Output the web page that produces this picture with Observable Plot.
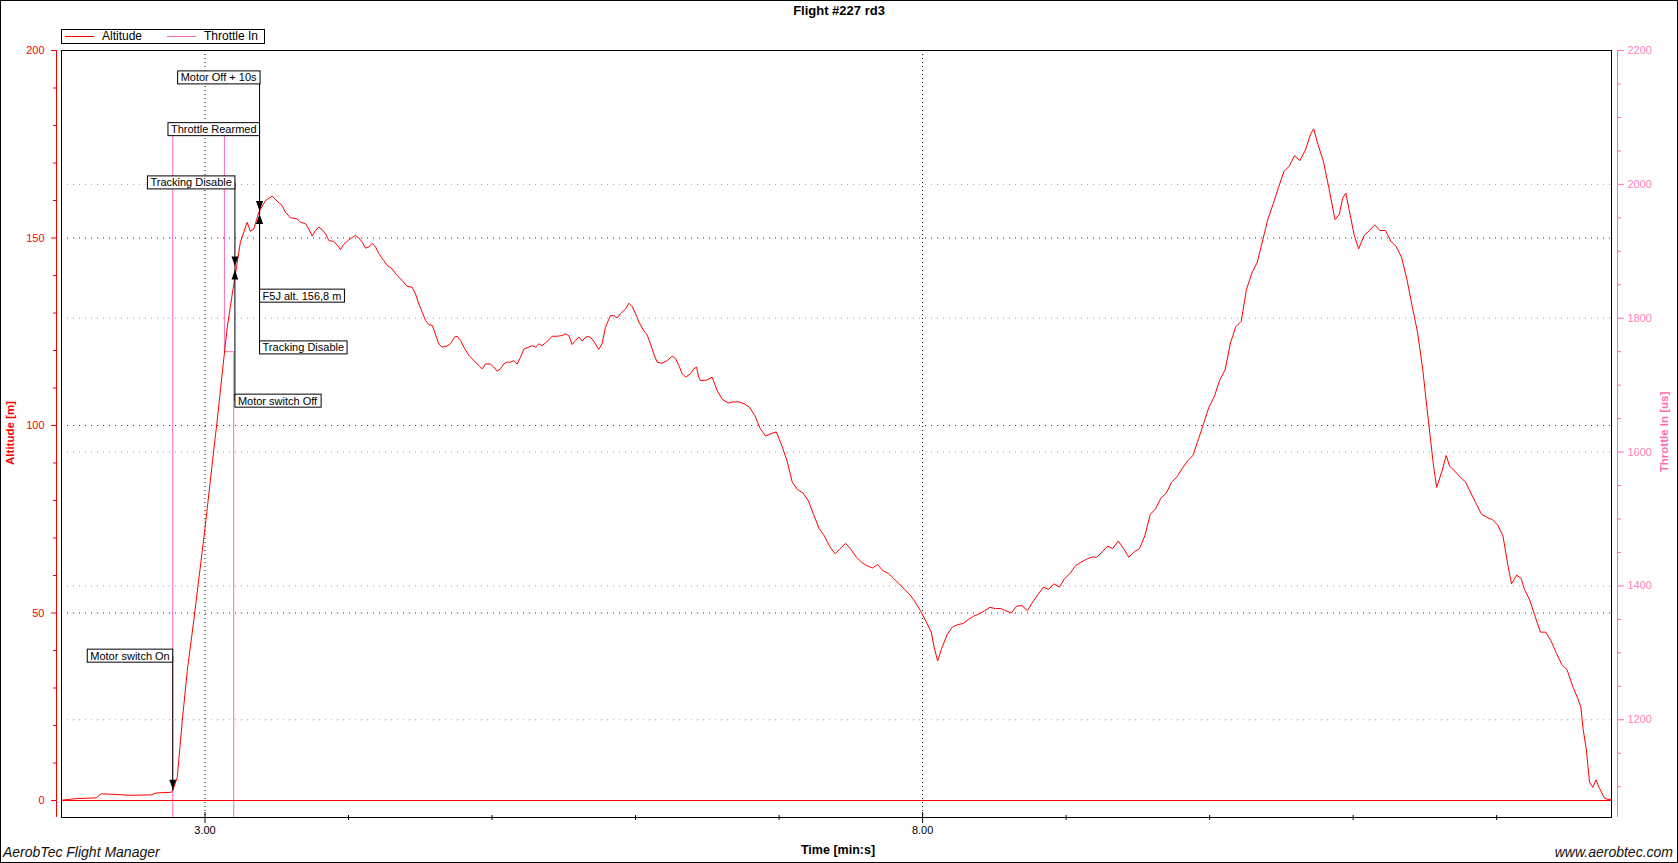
<!DOCTYPE html>
<html><head><meta charset="utf-8">
<script src="https://cdn.jsdelivr.net/npm/d3@7"></script>
<script src="https://cdn.jsdelivr.net/npm/@observablehq/plot@0.6"></script>
<style>
html,body{margin:0;padding:0;overflow:hidden;background:#fff;}
#chart{position:relative;width:1678px;height:863px;font-family:"Liberation Sans",Arial,sans-serif;}
#chart svg{position:absolute;left:0;top:0;}
.border{position:absolute;left:0;top:0;width:1678px;height:863px;box-sizing:border-box;border:1px solid #000;}
.lbl{position:absolute;white-space:nowrap;line-height:1;}
</style></head>
<body>
<div id="chart"><div class="border"></div></div>
<script>
// ---- data ----
const timeSec = [120.3,126.1,134.5,136.6,149.1,157.5,159.5,165.8,166.5,168.4,
170.5,172.6,175.3,177.5,179.7,182.0,184.2,185.1,187.2,189.3,
191.4,192.7,194.8,197.6,
199.0,200.4,202.5,205.3,208.1,210.2,212.2,213.6,215.7,218.5,
219.9,222.0,223.4,224.8,226.2,227.6,229.0,230.4,231.8,233.8,
235.9,236.6,238.0,240.1,242.9,244.3,245.7,247.1,248.5,249.9,
251.3,252.7,254.7,256.1,258.2,260.3,262.4,264.5,266.6,268.0,
269.4,270.8,272.2,273.6,275.0,276.3,277.7,279.1,281.2,282.6,
284.3,285.4,286.8,288.2,290.3,292.4,294.5,295.9,297.3,299.3,
300.7,302.1,303.5,304.9,306.3,307.7,309.1,310.5,311.9,313.3,
315.4,316.8,318.2,319.6,320.9,322.3,323.7,325.1,327.2,329.3,
330.7,332.1,333.5,334.9,336.3,337.7,339.1,340.5,341.8,343.2,
344.6,346.0,347.4,349.5,350.9,352.3,353.7,355.8,357.2,358.6,
360.0,361.4,363.4,364.8,366.2,367.6,369.0,371.1,373.2,375.3,
376.7,378.1,379.5,380.9,383.0,384.3,385.5,386.4,387.1,
389.7,392.0,394.2,396.4,398.7,400.9,403.2,405.4,407.6,409.9,
412.1,414.3,416.6,418.8,421.0,423.3,425.5,427.7,430.0,432.2,
434.4,436.7,438.9,441.1,443.4,445.6,447.8,450.1,452.3,454.5,
456.8,459.0,461.2,463.5,465.7,467.9,470.2,472.4,474.7,476.9,
479.1,481.4,483.6,484.9,486.3,488.0,490.3,492.5,494.7,497.0,
499.2,501.4,503.7,505.9,508.1,510.4,512.6,514.8,517.1,519.3,
521.5,523.8,526.0,528.2,530.5,532.7,534.9,537.2,539.4,541.7,
543.9,546.1,548.4,550.6,552.8,555.1,557.3,559.5,561.8,564.0,
566.2,568.5,570.7,572.9,575.2,577.4,579.6,581.9,584.1,586.3,
588.6,590.8,593.0,595.3,597.5,599.7,602.0,604.2,606.5,608.7,
610.9,613.2,615.4,617.6,619.9,622.1,624.3,626.6,628.8,631.0,
633.3,635.5,637.7,640.0,642.2,643.5,645.3,647.5,649.8,652.4,
654.2,655.6,656.9,658.7,660.5,662.3,664.5,666.8,669.0,671.2,
673.5,675.7,677.9,680.2,682.4,684.6,686.9,689.1,691.3,693.6,
694.9,697.1,698.9,700.3,702.5,704.7,707.0,709.2,711.4,713.7,
715.9,718.2,720.4,722.6,724.9,726.2,728.4,730.2,731.6,733.8,
736.0,738.3,740.5,742.7,745.0,747.2,749.4,751.7,753.9,755.2,
756.1,757.5,758.8,760.2,761.5,762.8,765.1,766.4,767.8];
const altitudeM = [0.1,0.5,0.7,1.8,1.4,1.5,2.0,2.2,2.6,6.2,
21.3,34.7,48.0,59.5,71.0,84.0,96.5,101.3,114.0,126.2,
135.1,140.4,148.9,154.2,
151.8,152.4,156.9,160.0,161.2,159.8,158.7,156.9,155.4,155.1,
154.2,153.8,152.4,150.5,152.0,152.9,152.2,151.1,149.3,149.1,
147.6,146.9,148.3,149.5,150.7,150.0,148.9,147.3,147.6,148.6,
147.6,145.8,144.0,142.7,141.8,140.0,138.7,137.1,136.9,135.1,
132.4,130.2,128.0,126.9,126.7,124.4,121.8,120.9,121.2,121.8,
123.6,123.8,122.7,120.9,118.7,117.3,116.0,115.1,116.4,116.4,
115.6,114.5,115.1,116.4,116.9,116.9,117.3,116.4,118.2,120.4,
120.9,121.3,120.9,121.8,121.3,122.0,122.8,123.8,123.8,124.0,
124.4,124.0,121.6,122.7,123.6,122.5,123.6,123.7,123.1,121.8,
120.3,121.8,126.2,129.3,129.3,128.7,129.8,131.1,132.6,131.7,
129.8,127.6,125.3,124.2,121.8,119.1,116.9,116.6,117.3,118.5,
117.9,116.0,113.8,112.9,113.8,115.1,115.6,112.9,112.0,
112.1,112.9,109.2,106.9,106.0,106.3,106.3,105.8,104.9,102.6,
99.2,97.2,97.8,98.3,94.9,90.6,84.9,82.9,82.0,80.0,
76.3,72.6,70.6,67.8,65.8,67.2,68.6,66.9,64.9,63.5,
62.6,62.0,62.9,61.2,60.6,59.2,57.8,56.3,54.9,52.9,
50.6,47.8,44.9,40.6,37.2,40.6,44.3,46.3,46.9,47.2,
48.3,49.2,49.8,50.6,51.5,51.2,51.2,50.6,50.0,51.8,
52.0,50.6,52.9,54.9,56.9,56.3,57.8,56.9,59.2,60.6,
62.6,63.5,64.3,64.9,64.9,66.3,67.8,67.2,69.2,67.2,
64.9,66.3,67.2,70.6,76.3,77.8,80.6,82.0,84.9,86.3,
88.6,90.6,92.0,96.3,100.6,104.9,107.8,112.1,114.9,122.0,
126.3,127.8,136.3,140.6,143.5,149.2,154.9,159.2,163.5,167.7,
169.2,172.0,170.6,173.4,177.7,179.1,174.9,170.6,163.5,154.9,
156.3,160.6,162.0,156.3,150.6,147.1,150.6,152.0,153.5,152.0,
152.0,149.2,147.8,144.9,139.2,132.0,124.9,114.9,102.1,89.2,
83.5,87.8,92.0,89.2,87.8,86.3,84.9,82.0,79.2,76.3,
75.5,74.9,73.5,70.6,62.0,57.8,60.1,59.2,56.3,53.5,
49.2,44.9,44.9,42.6,39.2,36.3,34.9,30.6,27.2,24.9,
19.2,13.5,4.9,3.5,5.5,3.5,0.6,0.3,0.3];

const throttleTime = [120, 166.5, 166.5, 188.1, 188.1, 192.0, 192.0, 768];
const throttleUs   = [1000, 1000, 2080, 2080, 1750, 1750, 1000, 1000];

const annLabel    = ["Motor switch On","Tracking Disable","Motor switch Off","Throttle Rearmed","Motor Off + 10s","F5J alt. 156,8 m","Tracking Disable"];
const annTime     = [166.5, 192.5, 192.5, 202.8, 202.8, 202.8, 202.8];
const annPointAlt = [2.5, 142.0, 142.0, 156.8, 156.8, 156.8, 156.8];
const annLabelAlt = [38.5, 164.7, 106.5, 178.9, 192.7, 134.5, 120.7];
const annSide     = ["left","left","right","left","left","right","right"];

const altTicks = [0, 50, 100, 150, 200];
const altGrid  = [50, 100, 150];
const altMinor = d3.range(0, 201, 10).filter(v => v % 50 !== 0);
const thrTicks = [1200, 1400, 1600, 1800, 2000, 2200];
const thrGrid  = [1200, 1400, 1600, 1800, 2000];
const thrMinor = d3.range(1100, 2201, 50).filter(v => v % 200 !== 0);
const timeMajor = [180, 480];
const timeMinor = [240, 300, 360, 420, 540, 600, 660, 720];

// ---- layout ----
const W = 1678, H = 863;
const margins = {marginTop: 50, marginRight: 67, marginBottom: 46, marginLeft: 61};
const xDomain = [120, 768];
const RED = "#ff0000", PINK = "#ff69b4", PINKTXT = "#ff7fc0", GRIDRED = "#a00000";
const font = '"Liberation Sans", Arial, sans-serif';
const fmtTime = s => `${Math.floor(s / 60)}.${String(Math.round(s % 60)).padStart(2, "0")}`;

const n = Math.min(timeSec.length, altitudeM.length);
const altData = d3.range(n).map(i => ({t: timeSec[i], a: altitudeM[i]}));
const thrData = throttleTime.map((t, i) => ({t, v: throttleUs[i]}));
const ann = annLabel.map((label, i) => ({label, t: annTime[i], p: annPointAlt[i], l: annLabelAlt[i], side: annSide[i]}));

const downArrow = {draw(ctx) { ctx.moveTo(-3.4, -11.5); ctx.lineTo(3.4, -11.5); ctx.lineTo(0, -2); ctx.closePath(); }};
const upArrow   = {draw(ctx) { ctx.moveTo(-3.4, 11.5); ctx.lineTo(3.4, 11.5); ctx.lineTo(0, 2); ctx.closePath(); }};

const plotThr = Plot.plot({
  width: W, height: H, ...margins,
  style: {background: "transparent", fontFamily: font, fontSize: "11px", overflow: "visible"},
  x: {domain: xDomain, axis: null},
  y: {domain: [1054, 2200]},
  marks: [
    Plot.ruleY(thrGrid, {stroke: PINK, strokeDasharray: "1,5"}),
    Plot.line(thrData, {x: "t", y: "v", stroke: PINK, strokeWidth: 1, clip: true}),
    Plot.ruleX([xDomain[1]], {stroke: PINK, dx: 6}),
    Plot.axisY(thrTicks, {anchor: "right", dx: 6, tickSize: 6, tickPadding: 4, tickFormat: d => String(d), stroke: PINK, fill: PINKTXT, label: null, fontSize: 11}),
    Plot.axisY(thrMinor, {anchor: "right", dx: 6, tickSize: 3, stroke: PINK, text: null, label: null})
  ]
});

const plotAlt = Plot.plot({
  width: W, height: H, ...margins,
  style: {background: "transparent", fontFamily: font, fontSize: "11px", overflow: "visible"},
  x: {domain: xDomain},
  y: {domain: [-4.53, 200]},
  marks: [
    Plot.ruleY(altGrid, {stroke: GRIDRED, strokeDasharray: "1,5"}),
    Plot.ruleX(timeMajor, {stroke: "#000", strokeDasharray: "1,3"}),
    Plot.ruleY([0], {stroke: RED}),
    Plot.line(altData, {x: "t", y: "a", stroke: RED, strokeWidth: 1}),
    Plot.frame({stroke: "#000"}),
    Plot.ruleX([xDomain[0]], {stroke: RED, dx: -5}),
    Plot.axisY(altTicks, {anchor: "left", dx: -5, tickSize: 5, tickPadding: 7, tickFormat: d => String(d), stroke: RED, fill: RED, label: null, fontSize: 11}),
    Plot.axisY(altMinor, {anchor: "left", dx: -5, tickSize: 3, stroke: RED, text: null, label: null}),
    Plot.axisX(timeMajor, {anchor: "bottom", dy: -5, tickSize: 11, tickPadding: 3, tickFormat: fmtTime, stroke: "#000", fill: "#000", label: null, fontSize: 11}),
    Plot.axisX(timeMinor, {anchor: "bottom", dy: -2, tickSize: 5, stroke: "#000", text: null, label: null}),
    Plot.ruleX(ann, {x: "t", y1: "p", y2: "l", stroke: "#000"}),
    Plot.dot(ann.filter(d => d.l > d.p), {x: "t", y: "p", symbol: downArrow, fill: "#000", stroke: "none"}),
    Plot.dot(ann.filter(d => d.l < d.p), {x: "t", y: "p", symbol: upArrow, fill: "#000", stroke: "none"}),
    Plot.text(ann.filter(d => d.side === "left"), {x: "t", y: "l", text: "label", textAnchor: "end", dx: -3, fill: "#000", fontSize: 11, className: "annbox"}),
    Plot.text(ann.filter(d => d.side === "right"), {x: "t", y: "l", text: "label", textAnchor: "start", dx: 3, fill: "#000", fontSize: 11, className: "annbox"})
  ]
});

const chart = document.getElementById("chart");
chart.appendChild(plotThr);
chart.appendChild(plotAlt);

// boxes behind annotation texts
plotAlt.querySelectorAll("g.annbox text").forEach(t => {
  const b = t.getBBox();
  const r = document.createElementNS("http://www.w3.org/2000/svg", "rect");
  r.setAttribute("x", b.x - 3); r.setAttribute("y", b.y - 0.5);
  r.setAttribute("width", b.width + 6); r.setAttribute("height", b.height + 1);
  r.setAttribute("fill", "#fff"); r.setAttribute("stroke", "#000"); r.setAttribute("stroke-width", 1);
  const tr = t.getAttribute("transform"); if (tr) r.setAttribute("transform", tr);
  t.parentNode.insertBefore(r, t);
});

// texts outside the svg frame
function addLabel(text, css) {
  const d = document.createElement("div");
  d.className = "lbl"; d.textContent = text;
  Object.assign(d.style, css);
  chart.appendChild(d);
  return d;
}
addLabel("Flight #227 rd3", {left: "839px", top: "4px", transform: "translateX(-50%)", fontWeight: "bold", fontSize: "13px"});
addLabel("Time [min:s]", {left: "838px", top: "844px", transform: "translateX(-50%)", fontWeight: "bold", fontSize: "12.5px"});
addLabel("AerobTec Flight Manager", {left: "3px", top: "845px", fontStyle: "italic", fontSize: "14px", color: "#111"});
addLabel("www.aerobtec.com", {right: "5px", top: "845px", fontStyle: "italic", fontSize: "14px", color: "#111"});
addLabel("Altitude [m]", {left: "11px", top: "433px", transform: "translate(-50%,-50%) rotate(-90deg)", fontWeight: "bold", fontSize: "11.5px", color: RED});
addLabel("Throttle In [us]", {left: "1665px", top: "432px", transform: "translate(-50%,-50%) rotate(-90deg)", fontWeight: "bold", fontSize: "11.5px", color: PINK});

// legend
const lg = document.createElement("div");
Object.assign(lg.style, {position: "absolute", left: "61px", top: "29px", width: "204px", height: "15px", boxSizing: "border-box", border: "1px solid #000", background: "#fff"});
chart.appendChild(lg);
const legendItems = [{name: "Altitude", color: RED, x0: 3, tx: 40}, {name: "Throttle In", color: PINK, x0: 105, tx: 142}];
legendItems.forEach(it => {
  const ln = document.createElement("div");
  Object.assign(ln.style, {position: "absolute", left: it.x0 + "px", top: "6px", width: "29px", height: "1px", background: it.color});
  lg.appendChild(ln);
  const tx = document.createElement("div");
  tx.className = "lbl"; tx.textContent = it.name;
  Object.assign(tx.style, {left: it.tx + "px", top: "0px", fontSize: "12px", color: "#000"});
  lg.appendChild(tx);
});
</script>
</body></html>
